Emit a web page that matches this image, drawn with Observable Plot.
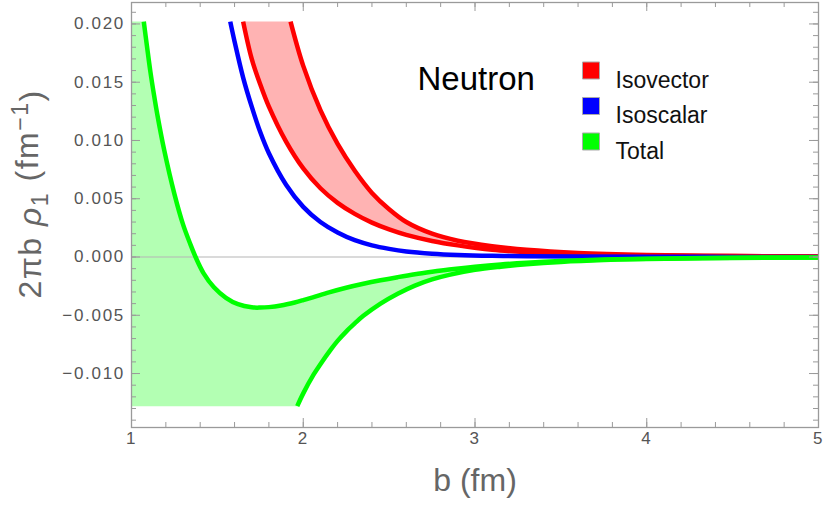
<!DOCTYPE html>
<html>
<head>
<meta charset="utf-8">
<script src="https://cdn.jsdelivr.net/npm/d3@7"></script>
<script src="https://cdn.jsdelivr.net/npm/@observablehq/plot@0.6"></script>
<style>
  html, body { margin: 0; padding: 0; background: #fff; }
  #chart svg { display: block; font-family: "Liberation Sans", Arial, sans-serif; }
</style>
</head>
<body>
<div id="chart"></div>
<script>
// Transverse charge density 2πb ρ1 of the neutron versus impact parameter b (fm).
// Each contribution is an uncertainty band bounded by two curves.

// Isovector band: lower edge
const isovectorLowB = [1.650, 1.70, 1.75, 1.80, 1.90, 2.00, 2.10, 2.20, 2.30, 2.40, 2.50, 2.60, 2.75, 2.90, 3.10, 3.30, 3.60, 4.00, 4.50, 5.00];
const isovectorLow  = [0.0202, 0.0170, 0.0148, 0.0129, 0.0099, 0.0076, 0.0059, 0.00465, 0.0037, 0.00295, 0.00237, 0.0019, 0.00138, 0.0010, 0.00062, 0.00042, 0.00024, 0.00014, 0.00008, 0.00005];

// Isovector band: upper edge
const isovectorHighB = [1.926, 2.00, 2.10, 2.20, 2.30, 2.40, 2.50, 2.60, 2.75, 2.90, 3.10, 3.30, 3.60, 4.00, 4.50, 5.00];
const isovectorHigh  = [0.0202, 0.0164, 0.0126, 0.0097, 0.0074, 0.0055, 0.0041, 0.0030, 0.0020, 0.0014, 0.00093, 0.00062, 0.00035, 0.00018, 0.00009, 0.00005];

// Isoscalar (a single curve)
const isoscalarB = [1.575, 1.60, 1.65, 1.70, 1.75, 1.80, 1.90, 2.00, 2.10, 2.20, 2.30, 2.40, 2.50, 2.60, 2.75, 2.90, 3.10, 3.30, 3.60, 4.00, 4.50, 5.00];
const isoscalar  = [0.0202, 0.0185, 0.0154, 0.0129, 0.0107, 0.0089, 0.0062, 0.0043, 0.0030, 0.0021, 0.00144, 0.0010, 0.0007, 0.00048, 0.00029, 0.00018, 0.0001, 0.00006, 0.00004, 0.00002, 0.00001, 0.00001];

// Total band: upper edge
const totalHighB = [1.0715, 1.09, 1.11, 1.13, 1.15, 1.19, 1.25, 1.30, 1.34, 1.373, 1.42, 1.48, 1.55, 1.62, 1.70, 1.75, 1.80, 1.87, 1.95, 2.00, 2.06, 2.15, 2.25, 2.35, 2.45, 2.55, 2.65, 2.75, 2.85, 3.00, 3.15, 3.30, 3.50, 3.75, 4.00, 4.50, 5.00];
const totalHigh  = [0.0202, 0.0181, 0.0159, 0.0140, 0.01225, 0.0092, 0.0054, 0.0028, 0.0012, 0.0, -0.0014, -0.0026, -0.0035, -0.00405, -0.00432, -0.00434, -0.0043, -0.00416, -0.0039, -0.0037, -0.00344, -0.00304, -0.00264, -0.0023, -0.0020, -0.00173, -0.00148, -0.00127, -0.00108, -0.00084, -0.00064, -0.00049, -0.00034, -0.00022, -0.000145, -0.000065, -0.000035];

// Total band: lower edge
const totalLowB = [1.965, 2.00, 2.06, 2.10, 2.16, 2.20, 2.25, 2.30, 2.35, 2.45, 2.55, 2.65, 2.75, 2.85, 3.00, 3.15, 3.30, 3.50, 3.75, 4.00, 4.50, 5.00];
const totalLow  = [-0.0128, -0.0117, -0.0101, -0.0092, -0.00795, -0.0072, -0.0064, -0.0057, -0.00505, -0.0040, -0.00315, -0.00245, -0.00192, -0.00153, -0.0011, -0.00083, -0.00062, -0.00042, -0.00026, -0.00017, -0.00008, -0.00005];

// Plotted range of the curves and the frame around them
const clipLow = -0.0128, clipHigh = 0.0202;
const frameY = [-0.01463, 0.02184];
const frameX = [1, 5];

// Ticks and labels
const xTicks = [1, 2, 3, 4, 5];
const yTicks = [-0.010, -0.005, 0.000, 0.005, 0.010, 0.015, 0.020];
const xMinor = d3.range(1, 5.0001, 0.2);
const yMinor = d3.range(-0.014, 0.0215, 0.001);
const seriesNames = ["Isovector", "Isoscalar", "Total"];
const seriesColors = ["#ff0000", "#0000ff", "#00ff00"];
const bandColors = ["#ffb3b3", null, "#b3ffb3"];
const panelTitle = "Neutron";
const xLabel = "b (fm)";
const yLabel = "2πb ρ1 (fm-1)";

const pts = (bs, vs) => bs.map((b, i) => ({b, v: vs[i]}));

// Band outlines as closed polygons
const isovectorBand = [
  ...pts(isovectorLowB, isovectorLow),
  ...pts(isovectorHighB, isovectorHigh).reverse()
];
const totalBand = [
  {b: frameX[0], v: clipHigh},
  ...pts(totalHighB, totalHigh),
  ...pts(totalLowB, totalLow).reverse(),
  {b: frameX[0], v: clipLow}
];

const W = 830, H = 513;
const mL = 131, mR = 12, mT = 2, mB = 86;
const innerW = W - mL - mR, innerH = H - mT - mB;
const major = 9, minor = 5;
const frameColor = "#9a9a9a";
const fmtY = d => d === 0 ? "0.000" : (d < 0 ? "\u2212" : "") + Math.abs(d).toFixed(3);

const lineOpts = {x: "b", y: "v", strokeWidth: 4.5, curve: "catmull-rom", strokeLinecap: "butt"};

const marks = [
  // bands
  Plot.line(isovectorBand, {x: "b", y: "v", fill: bandColors[0], stroke: "none"}),
  Plot.line(totalBand, {x: "b", y: "v", fill: bandColors[2], stroke: "none"}),
  // zero line
  Plot.ruleY([0], {stroke: "#b5b5b5", strokeWidth: 1}),
  // curves
  Plot.line(pts(isovectorLowB, isovectorLow), {...lineOpts, stroke: seriesColors[0]}),
  Plot.line(pts(isovectorHighB, isovectorHigh), {...lineOpts, stroke: seriesColors[0]}),
  Plot.line(pts(isoscalarB, isoscalar), {...lineOpts, stroke: seriesColors[1]}),
  Plot.line(pts(totalHighB, totalHigh), {...lineOpts, stroke: seriesColors[2]}),
  Plot.line(pts(totalLowB, totalLow), {...lineOpts, stroke: seriesColors[2]}),
  // frame and inward ticks on all four sides
  Plot.frame({stroke: frameColor, strokeWidth: 1.3}),
  Plot.ruleX(xTicks, {insetTop: innerH - major, stroke: frameColor}),
  Plot.ruleX(xTicks, {insetBottom: innerH - major, stroke: frameColor}),
  Plot.ruleX(xMinor, {insetTop: innerH - minor, stroke: frameColor}),
  Plot.ruleX(xMinor, {insetBottom: innerH - minor, stroke: frameColor}),
  Plot.ruleY(yTicks, {insetRight: innerW - major, stroke: frameColor}),
  Plot.ruleY(yTicks, {insetLeft: innerW - major, stroke: frameColor}),
  Plot.ruleY(yMinor, {insetRight: innerW - minor, stroke: frameColor}),
  Plot.ruleY(yMinor, {insetLeft: innerW - minor, stroke: frameColor}),
  // tick labels
  Plot.axisX({ticks: xTicks, tickSize: 0, tickPadding: 4, tickFormat: d => String(d), fontSize: 17, color: "#555", label: null}),
  Plot.axisY({ticks: yTicks, tickSize: 0, tickPadding: 6.5, tickFormat: fmtY, fontSize: 17, color: "#555", label: null}),
  // axis titles
  Plot.text([xLabel], {text: d => d, frameAnchor: "bottom", dy: 63, fontSize: 32, fill: "#666"}),
  Plot.text([yLabel], {text: d => d, frameAnchor: "left", dx: 30 - mL, dy: -21, rotate: -90, fontSize: 32, fill: "#666"}),
  // panel title
  Plot.text([panelTitle], {text: d => d, frameAnchor: "top-left", dx: 417 - mL, dy: 66.5 - mT, textAnchor: "start", fontSize: 33, fill: "#000"})
];

// legend: swatch + name per series
seriesNames.forEach((name, i) => {
  marks.push(Plot.dot([name], {frameAnchor: "top-left", dx: 590.5 - mL, dy: 70 - mT + i * 35.5, symbol: "square", r: 9.6, fill: seriesColors[i], stroke: "#aaa", strokeWidth: 1}));
  marks.push(Plot.text([name], {text: d => d, frameAnchor: "top-left", dx: 615 - mL, dy: 71 - mT + i * 35.5, textAnchor: "start", fontSize: 23, fill: "#111"}));
});

const chart = Plot.plot({
  width: W, height: H,
  marginLeft: mL, marginRight: mR, marginTop: mT, marginBottom: mB,
  x: {domain: frameX},
  y: {domain: frameY},
  style: {background: "#fff", overflow: "visible"},
  marks
});

const svg = d3.select(chart);

// tick numbers are set a little wider
svg.selectAll("g[aria-label='x-axis tick label'], g[aria-label='y-axis tick label']").attr("letter-spacing", "1.7px");

// typeset the y title with italic rho, subscript and superscript
svg.selectAll("text").filter(function () { return this.textContent === yLabel; }).each(function () {
  const t = d3.select(this).text(null).attr("text-anchor", "middle").attr("letter-spacing", "1.5px");
  t.append("tspan").text("2\u03C0b ");
  t.append("tspan").attr("font-style", "italic").text("\u03C1");
  t.append("tspan").attr("font-size", "72%").attr("dy", "0.3em").text("1");
  t.append("tspan").attr("dy", "-0.3em").text(" (fm");
  t.append("tspan").attr("font-size", "72%").attr("dy", "-0.45em").text("\u22121");
  t.append("tspan").attr("dy", "0.45em").text(")");
});

document.getElementById("chart").appendChild(chart);
</script>
</body>
</html>
